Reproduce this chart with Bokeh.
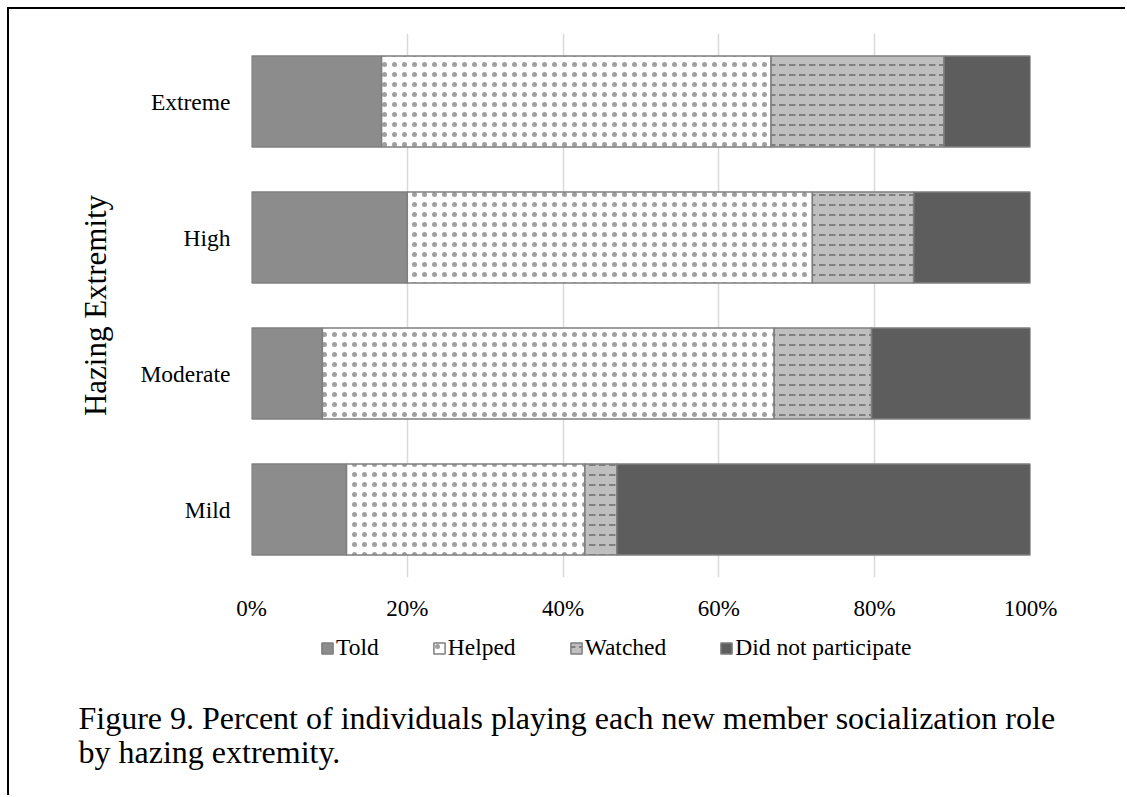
import numpy as np
from bokeh.plotting import figure
from bokeh.layouts import column
from bokeh.models import ColumnDataSource, FactorRange, Range1d, Legend, LegendItem, Label
from bokeh.embed import file_html
from bokeh.resources import INLINE

# Hazing extremity levels, bottom to top
levels = ["Mild", "Moderate", "High", "Extreme"]
roles = ["Told", "Helped", "Watched", "Did not participate"]

# Percent of individuals in each role
told = [12.2, 9.1, 20.0, 16.7]
helped = [30.6, 58.0, 52.0, 50.0]
watched = [4.1, 12.5, 13.0, 22.2]
did_not = [53.1, 20.4, 15.0, 11.1]

x_ticks = [0, 20, 40, 60, 80, 100]
x_tick_labels = ["0%", "20%", "40%", "60%", "80%", "100%"]

caption_lines = [
    "Figure 9. Percent of individuals playing each new member socialization role",
    "by hazing extremity.",
]

SERIF = "Liberation Serif"

series = [told, helped, watched, did_not]
styles = [
    dict(fill_color="#8c8c8c"),
    dict(fill_color="#ffffff", hatch_pattern="dot", hatch_color="#7f7f7f",
         hatch_scale=10, hatch_weight=1, hatch_alpha=0.75),
    dict(fill_color="#bfbfbf", hatch_pattern="horizontal_dash", hatch_color="#7f7f7f",
         hatch_scale=10, hatch_weight=2),
    dict(fill_color="#5d5d5d"),
]
common = dict(line_color="#7f7f7f", line_width=1.5)

cum = np.cumsum(np.array(series, dtype=float), axis=0)
data = {"level": levels}
for i in range(len(roles)):
    data[f"l{i}"] = (cum[i - 1] if i > 0 else np.zeros(len(levels))).tolist()
    data[f"r{i}"] = cum[i].tolist()
source = ColumnDataSource(data)

# ---- chart ----
p = figure(
    width=1118, height=628,
    y_range=FactorRange(factors=levels, range_padding=0),
    x_range=Range1d(0, 100),
    output_backend="svg", toolbar_location=None,
    min_border_left=242, min_border_right=97,
    min_border_top=24, min_border_bottom=60,
)
p.styles = {
    "border-left": "2px solid #000000",
    "border-top": "2px solid #000000",
    "margin-left": "7px",
    "margin-top": "7px",
}
p.outline_line_color = None
p.background_fill_color = "#ffffff"
p.border_fill_color = "#ffffff"

for i, role in enumerate(roles):
    p.hbar(y="level", left=f"l{i}", right=f"r{i}", height=0.67, source=source,
           **common, **styles[i])

p.xaxis.ticker = x_ticks
p.xaxis.major_label_overrides = dict(zip(x_ticks, x_tick_labels))
p.xaxis.axis_line_color = None
p.xaxis.major_tick_line_color = None
p.xaxis.minor_tick_line_color = None
p.xaxis.major_label_standoff = 12
p.xaxis.major_label_text_font = SERIF
p.xaxis.major_label_text_font_size = "23px"
p.xaxis.major_label_text_color = "#000000"

p.yaxis.axis_line_color = None
p.yaxis.major_tick_line_color = None
p.yaxis.minor_tick_line_color = None
p.yaxis.major_label_standoff = 15
p.yaxis.major_label_text_font = SERIF
p.yaxis.major_label_text_font_size = "23.5px"
p.yaxis.major_label_text_color = "#000000"
p.yaxis.axis_label = "Hazing Extremity"
p.yaxis.axis_label_text_font = SERIF
p.yaxis.axis_label_text_font_size = "31px"
p.yaxis.axis_label_text_font_style = "normal"
p.yaxis.axis_label_text_color = "#000000"
p.yaxis.axis_label_standoff = 24

p.xgrid.ticker = x_ticks
p.xgrid.grid_line_color = "#d9d9d9"
p.xgrid.grid_line_width = 1.5
p.ygrid.grid_line_color = None

# ---- legend and caption strip ----
q = figure(
    width=1118, height=160,
    x_range=Range1d(0, 1), y_range=Range1d(0, 1),
    output_backend="svg", toolbar_location=None,
    x_axis_location=None, y_axis_location=None,
    min_border=0, min_border_left=0, min_border_right=0,
    min_border_top=0, min_border_bottom=0,
)
q.styles = {"border-left": "2px solid #000000", "margin-left": "7px"}
q.outline_line_color = None
q.xgrid.grid_line_color = None
q.ygrid.grid_line_color = None
q.border_fill_color = "#ffffff"
q.background_fill_color = "#ffffff"

# the strip keeps its own full-width frame instead of lining up with the chart
for fig in (p, q):
    if "frame_align" in fig.properties():
        fig.frame_align = False

# legend swatches: same glyph styles, each with one bar kept outside the strip's range
swatches = [
    q.hbar(y=[-10], left=[-10], right=[-9], height=0.5, **common, **styles[i])
    for i in range(len(roles))
]
legend = Legend(
    items=[LegendItem(label=role, renderers=[r]) for role, r in zip(roles, swatches)],
    orientation="horizontal", location=(311, 134),
    label_text_font=SERIF, label_text_font_size="23.5px", label_text_color="#000000",
    glyph_width=14, glyph_height=14, label_standoff=2, spacing=53,
    label_height=24, border_line_color=None, background_fill_alpha=0,
    margin=0, padding=0,
)
q.add_layout(legend, "center")

for k, line in enumerate(caption_lines):
    q.add_layout(Label(
        x=69, y=78 - 34 * k, x_units="screen", y_units="screen", text=line,
        text_font=SERIF, text_font_size="32px", text_color="#000000",
        text_baseline="alphabetic", text_align="left",
    ))

layout = column(p, q, spacing=0)
open("out.html", "w").write(file_html(layout, INLINE))
